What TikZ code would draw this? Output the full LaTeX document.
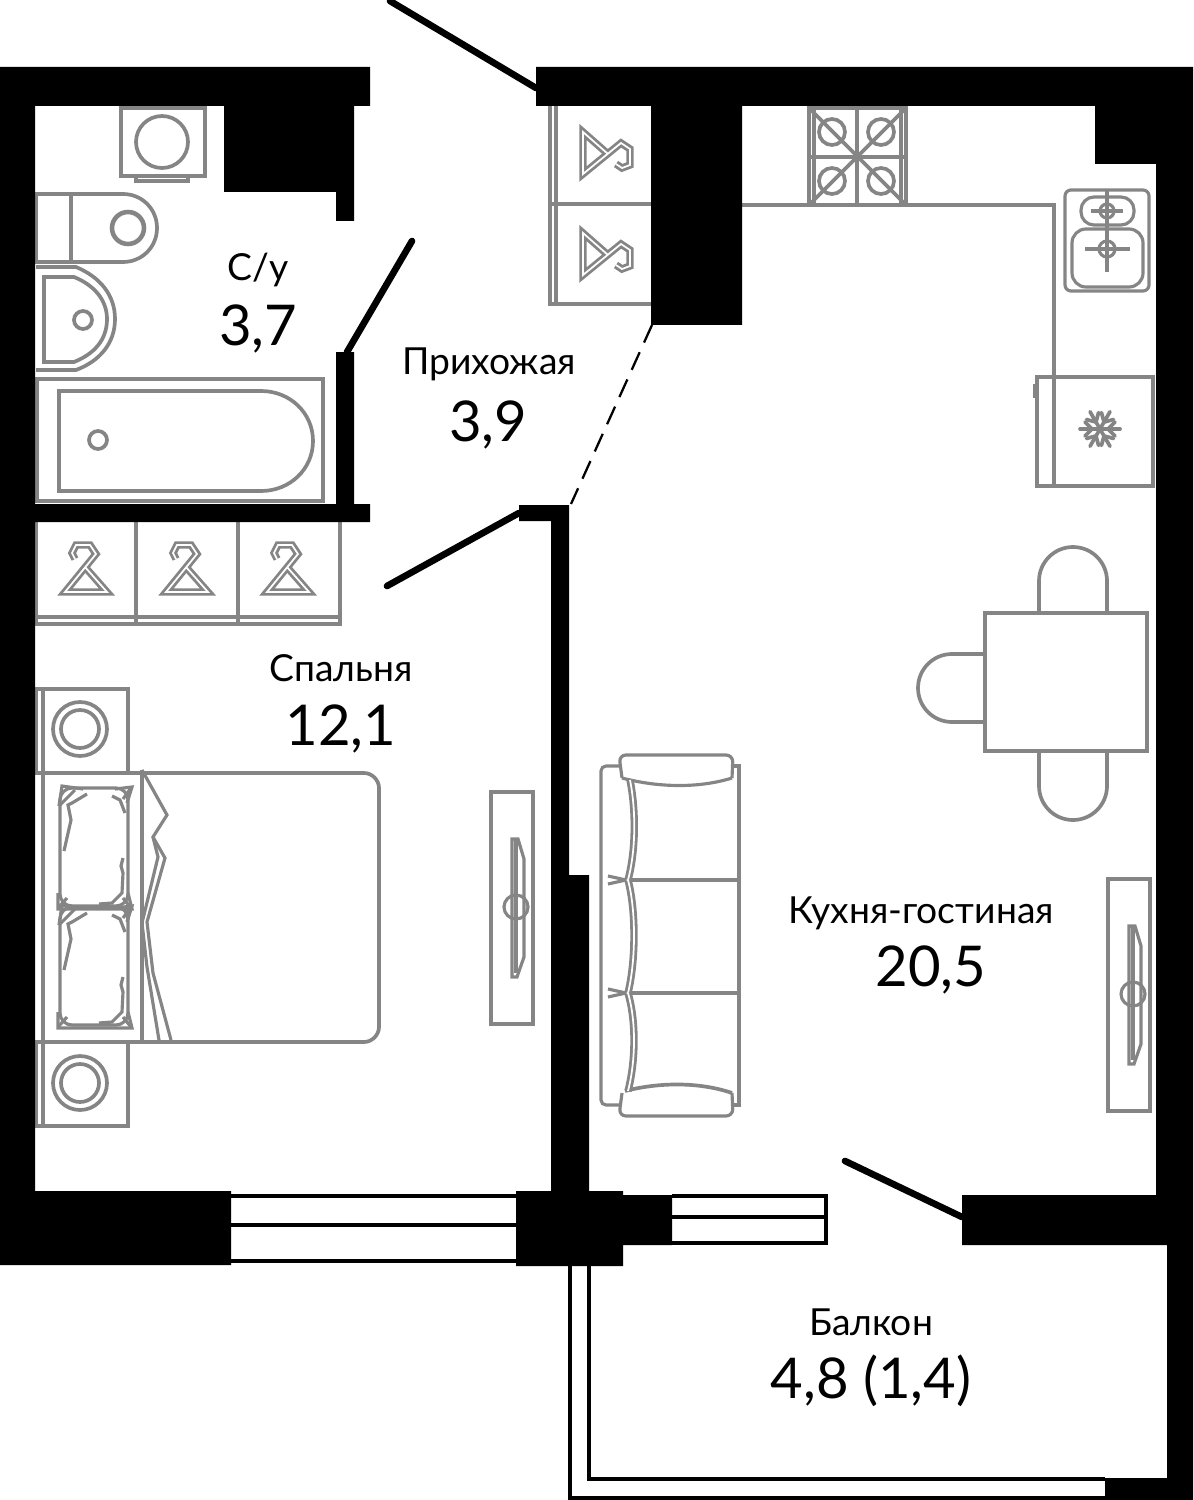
\documentclass[tikz,border=0pt]{standalone}
\usepackage{fontspec}
\setmainfont{Lato}
\definecolor{furngrey}{HTML}{858585}
\tikzset{
  wall/.style={fill=black,draw=none},
  leaf/.style={draw=black,line width=3.8pt,line cap=round},
  glass/.style={draw=black,line width=1.9pt},
  furn/.style={draw=furngrey,line width=2.1pt},
  thinfurn/.style={draw=furngrey,line width=1.8pt},
  dbl/.style={draw=furngrey,line width=1.6pt,double=white,double distance=1pt},
  roomname/.style={font=\fontsize{21.2}{21.2}\selectfont},
  roomarea/.style={font=\fontsize{32}{32}\selectfont},
  pics/hanger/.style={code={
    \draw[dbl] (-11,-11) -- (-14,-17) -- (-10,-25) -- (4,-25) -- (10,-16) -- (-21,22) -- (21,22) -- (-1,-3);
  }},
  pics/hangerside/.style={code={
    \draw[dbl] (11,11) -- (17,15) -- (25,12) -- (25,-4) -- (16,-10) -- (-22,21) -- (-22,-21) -- (3,1);
  }},
  pics/pillow/.style={code={
    \draw[thinfurn,rounded corners=0.24cm] (-35,-60) -- (33,-60) -- (33,58) -- (-35,58) -- cycle;
    \draw[thinfurn] (-36,-42) -- (-33,-62) -- (-12,-59);
    \draw[thinfurn] (-36,-42) -- (-20,-58);
    \draw[thinfurn] (32,-45) -- (37,-61) -- (20,-59);
    \draw[thinfurn] (36,-60) -- (28,-49);
    \draw[thinfurn] (-37,45) -- (-37,61) -- (37,61) -- (33,45);
    \draw[thinfurn] (-37,60) -- (-28,50);
    \draw[thinfurn] (36,60) -- (28,50);
    \draw[thinfurn] (-8,-54) -- (-23,-45) -- (-27,-43) -- (-24,-28) -- (-31,3);
    \draw[thinfurn] (17,-52) -- (25,-48) -- (30,-35);
    \draw[thinfurn] (28,10) -- (26,18) -- (28,25) -- (27,45) -- (17,55) -- (4,56);
  }},
  pics/tvset/.style={code={
    \draw[furn] (-21,-115) rectangle (21,117);
    \draw[thinfurn] (0,-68) -- (6,-68) -- (12,-48) -- (12,50) -- (5,70) -- (0,70) -- cycle;
    \draw[thinfurn] (4,-68) -- (4,66);
    \draw[thinfurn] (4,0) circle [radius=12];
  }},
}
\begin{document}
\begin{tikzpicture}[x=0.02cm,y=-0.02cm]
\useasboundingbox (0,0) rectangle (1193,1500);
% bathroom
\draw[furn] (121,108) rectangle (205,176);
\draw[furn] (162,142) circle [radius=26];
\draw[thinfurn] (136,176) rectangle (188,181);
\draw[furn] (36,194) -- (123,194) .. controls (142,194) and (157,209) .. (157,228) .. controls (157,247) and (142,262) .. (123,262) -- (36,262) -- cycle;
\draw[furn] (71,194) -- (71,262);
\draw[draw=furngrey,line width=2.6pt] (128,228) circle [radius=16];
\draw[furn] (36,267) -- (76,267) .. controls (100,277) and (115,295) .. (115,319) .. controls (115,343) and (100,361) .. (76,370) -- (36,370);
\draw[furn] (44,277) -- (74,277) .. controls (94,285) and (107,300) .. (107,319) .. controls (107,340) and (94,354) .. (74,362) -- (44,362) -- cycle;
\draw[furn] (83,320) circle [radius=9];
\draw[furn] (37,379) rectangle (323,501);
\draw[furn] (59,391) -- (261,391) .. controls (290,391) and (313,413) .. (313,441) .. controls (313,469) and (290,491) .. (261,491) -- (59,491) -- cycle;
\draw[furn] (98,440) circle [radius=9];
% hall closet
\draw[thinfurn] (550,106) -- (550,304) -- (651,304);
\draw[thinfurn] (556,106) -- (556,304);
\draw[furn] (550,204) -- (651,204);
\pic at (605,153) {hangerside};
\pic at (605,254) {hangerside};
% bedroom closet
\draw[thinfurn] (36,522) -- (36,624) -- (340,624) -- (340,522);
\draw[thinfurn] (36,617) -- (340,617);
\draw[furn] (136,522) -- (136,624);
\draw[furn] (238,522) -- (238,624);
\foreach \cx in {86,187,288} \pic at (\cx,570) {hanger};
% bed
\draw[furn] (43,689) -- (43,1126);
\draw[furn] (36,689) rectangle (128,773);
\draw[furn] (36,1042) rectangle (128,1126);
\foreach \cy in {729,1083} {
  \draw[furn] (80,\cy) circle [radius=27];
  \draw[furn] (80,\cy) circle [radius=19];
}
\draw[furn] (128,773) -- (364,773) .. controls (372,773) and (379,780) .. (379,788) -- (379,1027) .. controls (379,1035) and (372,1042) .. (364,1042) -- (128,1042);
\draw[furn] (43,773) -- (128,773);
\draw[furn] (43,1042) -- (128,1042);
\draw[furn] (142,770) -- (142,1042);
\draw[thinfurn] (142,770) -- (167,815) -- (153,837) -- (165,858) -- (147,922) -- (153,973) -- (171,1040);
\draw[thinfurn] (153,837) -- (158,857) -- (142,923) -- (147,967) -- (159,1040);
\pic at (95,848) {pillow};
\pic at (95,967) {pillow};
% tv sets
\pic at (512,907) {tvset};
\pic at (1129,994) {tvset};
% sofa
\draw[thinfurn,rounded corners=0.1cm] (620,766) -- (601,766) -- (601,1105) -- (620,1105);
\draw[furn] (732,766) -- (739,766) -- (739,1105) -- (732,1105);
\draw[thinfurn,rounded corners=0.14cm] (622,778) -- (619,755) -- (733,755) -- (732,778);
\draw[thinfurn] (622,778) .. controls (660,788) and (700,788) .. (732,778);
\draw[thinfurn,rounded corners=0.14cm] (622,1093) -- (619,1116) -- (733,1116) -- (732,1093);
\draw[furn] (625,1091) .. controls (660,1082) and (700,1082) .. (732,1093);
\draw[thinfurn] (628,880) -- (739,880);
\draw[thinfurn] (628,993) -- (739,993);
\draw[dbl] (630,780) .. controls (636,810) and (636,850) .. (628,880);
\draw[dbl] (628,880) .. controls (636,910) and (636,960) .. (628,993);
\draw[dbl] (628,993) .. controls (636,1020) and (636,1060) .. (628,1091);
\foreach \cy in {880,993} {
  \draw[thinfurn] (608,\cy-4) -- (626,\cy);
  \draw[thinfurn] (608,\cy+4) -- (626,\cy);
}
% kitchen
\draw[furn] (742,205) -- (1054,205) -- (1054,487);
\draw[furn] (809,108) rectangle (906,205);
\draw[thinfurn] (814,108) -- (814,205);
\draw[thinfurn] (901,108) -- (901,205);
\draw[thinfurn] (809,157) -- (906,157);
\draw[thinfurn] (857,108) -- (857,205);
\draw[furn] (811,110) -- (904,203);
\draw[furn] (904,110) -- (811,203);
\foreach \cx in {832,881} \foreach \cy in {132,181} \draw[furn] (\cx,\cy) circle [radius=13];
\draw[thinfurn,rounded corners=0.12cm] (1065,190) rectangle (1149,291);
\draw[thinfurn,rounded corners=0.26cm] (1081,197) rectangle (1134,225);
\draw[thinfurn,rounded corners=0.28cm] (1072,229) rectangle (1143,287);
\draw[thinfurn] (1107,190) -- (1107,272);
\draw[thinfurn] (1091,211) -- (1123,211);
\draw[thinfurn] (1085,249) -- (1130,249);
\draw[thinfurn] (1107,211) circle [radius=7];
\draw[thinfurn] (1107,249) circle [radius=8];
\draw[thinfurn] (1037,377) rectangle (1054,486);
\draw[furn] (1054,377) rectangle (1153,486);
\fill[furngrey] (1033,384) rectangle (1037,398);
\foreach \a in {0,60,...,300} {
\begin{scope}[shift={(1100,429)},rotate=\a]
\draw[furn,line cap=round] (0,0) -- (20,0);
\draw[furn,line cap=round] (15,-7) -- (8,0) -- (15,7);
\end{scope}
}
% table and chairs
\draw[furn,rounded corners=0.68cm] (1039,613) -- (1039,547) -- (1107,547) -- (1107,613);
\draw[furn,rounded corners=0.68cm] (1039,751) -- (1039,820) -- (1107,820) -- (1107,751);
\draw[furn,rounded corners=0.68cm] (985,654) -- (918,654) -- (918,722) -- (985,722);
\draw[furn] (985,613) rectangle (1147,751);
% balcony rail and windows
\draw[glass] (570,1266) -- (570,1498) -- (1193,1498);
\draw[glass] (589,1266) -- (589,1479) -- (1105,1479);
\draw[glass] (231,1196) -- (516,1196);
\draw[glass] (231,1225) -- (516,1225);
\draw[glass] (231,1261) -- (516,1261);
\draw[glass] (672,1196) -- (826,1196) -- (826,1243) -- (672,1243);
\draw[glass] (672,1217) -- (826,1217);
% walls
\fill[wall] (0,67) -- (370,67) -- (370,106) -- (354,106) -- (354,221) -- (336,221) -- (336,192) -- (224,192) -- (224,106) -- (35,106) -- (35,1191) -- (231,1191) -- (231,1265) -- (0,1265) -- cycle;
\fill[wall] (336,352) -- (354,352) -- (354,504) -- (370,504) -- (370,522) -- (35,522) -- (35,504) -- (336,504) -- cycle;
\fill[wall] (536,67) -- (1193,67) -- (1193,1500) -- (1105,1500) -- (1105,1478) -- (1167,1478) -- (1167,1245) -- (962,1245) -- (962,1195) -- (1156,1195) -- (1156,164) -- (1095,164) -- (1095,106) -- (742,106) -- (742,325) -- (651,325) -- (651,106) -- (536,106) -- cycle;
\fill[wall] (519,505) -- (569,505) -- (569,875) -- (589,875) -- (589,1191) -- (623,1191) -- (623,1195) -- (672,1195) -- (672,1245) -- (623,1245) -- (623,1266) -- (516,1266) -- (516,1191) -- (551,1191) -- (551,521) -- (519,521) -- cycle;
% door leaves
\draw[leaf] (390,1) -- (536,88);
\draw[leaf] (412,241) -- (347,352);
\draw[leaf] (387,586) -- (519,513);
\draw[leaf] (845,1161) -- (962,1217);
\draw[draw=black,line width=1.3pt,dash pattern=on 11pt off 6pt] (652,325) -- (571,504);
% labels
\node[roomname] (bathname) at (258,270) {С/у};
\node[roomarea] (batharea) at (258,329) {3,7};
\node[roomname] (hallname) at (489,364) {Прихожая};
\node[roomarea] (hallarea) at (488,425) {3,9};
\node[roomname] (bedname) at (341,668) {Спальня};
\node[roomarea] (bedarea) at (341,729) {12,1};
\node[roomname] (livingname) at (921,913) {Кухня-гостиная};
\node[roomarea] (livingarea) at (931,970) {20,5};
\node[roomname] (balconyname) at (871,1322) {Балкон};
\node[roomarea] (balconyarea) at (871,1381) {4,8 (1,4)};
\end{tikzpicture}
\end{document}
